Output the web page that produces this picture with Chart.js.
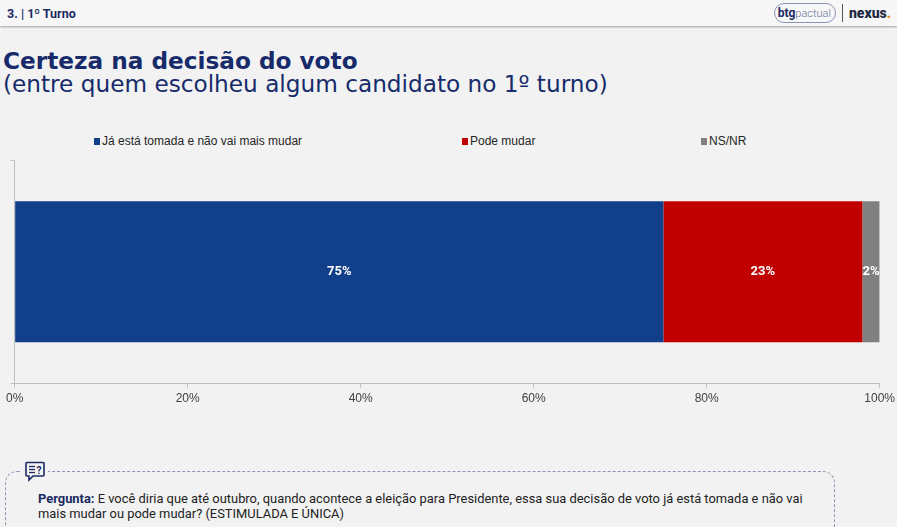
<!DOCTYPE html>
<html>
<head>
<meta charset="utf-8">
<script src="https://cdn.jsdelivr.net/npm/chart.js@4"></script>
<style>
  body { margin: 0; background: #f2f2f2; font-family: Roboto, "Liberation Sans", sans-serif; }
  #page { position: relative; width: 897px; height: 527px; overflow: hidden; background: #f2f2f2; }
  #header { position: absolute; left: 0; top: 0; width: 897px; height: 26px; background: #f7f7f7;
            box-shadow: 0 1px 2px rgba(0,0,0,0.35); }
  #section { position: absolute; left: 7px; top: 6px; font-size: 12.5px; font-weight: bold; color: #1b2a63; }
  #logo { position: absolute; right: 6px; top: 3px; height: 20px; display: flex; align-items: center; }
  .btg { border: 1px solid #8a93b8; border-radius: 10px; padding: 0 4px 0 3px; height: 18px; line-height: 18px;
         font-size: 12px; color: #1b2a63; font-weight: bold; }
  .btg span { font-weight: 300; font-size: 11px; color: #6a7396; }
  .sep { width: 1px; height: 18px; background: #555; margin: 0 6px 0 6px; }
  .nexus { font-size: 14px; font-weight: 900; color: #222a44; }
  .nexus i { color: #e98a10; font-style: normal; }
  #title { position: absolute; left: 3px; top: 49px; color: #172b6b; font-family: "DejaVu Sans", sans-serif;
           font-size: 23.2px; line-height: 23px; }
  #title b { font-weight: bold; }
  #legend { position: absolute; top: 134px; left: 0; font-family: "Liberation Sans Narrow", "Liberation Sans", sans-serif;
            font-size: 12px; color: #262626; }
  .item { position: absolute; white-space: nowrap; display: flex; align-items: center; }
  .sw { width: 6px; height: 7px; margin-right: 2px; }
  #chartbox { position: absolute; left: 2px; top: 150px; width: 897px; height: 260px; }
  #note { position: absolute; left: 5px; top: 471px; width: 828px; height: 80px; border: 1px dashed #8b96b5;
          border-radius: 12px; }
  #icon { position: absolute; left: 22px; top: 461px; width: 20px; height: 22px; background: #f2f2f2; padding: 0 3px; }
  #question { position: absolute; left: 38px; top: 491px; width: 790px; font-size: 12.9px; line-height: 15px; color: #222; }
  #question b { color: #1b2a63; }
</style>
</head>
<body>
<div id="page">
  <div id="header">
    <div id="section">3. | 1º Turno</div>
    <div id="logo">
      <div class="btg">btg<span>pactual</span></div>
      <div class="sep"></div>
      <div class="nexus">nexus<i>.</i></div>
    </div>
  </div>
  <div id="title"><b>Certeza na decisão do voto</b><br>(entre quem escolheu algum candidato no 1º turno)</div>
  <div id="legend"></div>
  <div id="chartbox"><canvas id="chart"></canvas></div>
  <div id="note"></div>
  <div id="icon">
    <svg width="20" height="22" viewBox="0 0 20 22">
      <path d="M2 1.5 H18 Q19 1.5 19 2.5 V14 Q19 15 18 15 H8 L4 19 V15 H2 Q1 15 1 14 V2.5 Q1 1.5 2 1.5 Z"
            fill="none" stroke="#1b2a63" stroke-width="1.6"/>
      <line x1="4" y1="5.5" x2="10" y2="5.5" stroke="#1b2a63" stroke-width="1.3"/>
      <line x1="4" y1="8.5" x2="10" y2="8.5" stroke="#1b2a63" stroke-width="1.3"/>
      <line x1="4" y1="11.5" x2="10" y2="11.5" stroke="#1b2a63" stroke-width="1.3"/>
      <text x="11.5" y="12.5" font-size="10" font-weight="bold" fill="#1b2a63" font-family="Roboto">?</text>
    </svg>
  </div>
  <div id="question"><b>Pergunta:</b> E você diria que até outubro, quando acontece a eleição para Presidente, essa sua decisão de voto já está tomada e não vai mais mudar ou pode mudar? (ESTIMULADA E ÚNICA)</div>
</div>
<script>
// data
const categories = ['1º Turno'];
const seriesNames = ['Já está tomada e não vai mais mudar', 'Pode mudar', 'NS/NR'];
const tomada = [75];
const podeMudar = [23];
const nsnr = [2];
const xTicks = [0, 20, 40, 60, 80, 100];

const colors = ['#123f8a', '#c00000', '#808080'];
const legendLeft = [94, 462, 701];

// legend as html
const legend = document.getElementById('legend');
seriesNames.forEach((name, i) => {
  const el = document.createElement('div');
  el.className = 'item';
  el.style.left = legendLeft[i] + 'px';
  el.innerHTML = '<span class="sw" style="background:' + colors[i] + '"></span>' + name;
  legend.appendChild(el);
});

// labels inside the bars
const barLabels = {
  id: 'barLabels',
  afterDatasetsDraw(chart) {
    const ctx = chart.ctx;
    ctx.save();
    ctx.font = 'bold 13px Roboto, "Liberation Sans", sans-serif';
    ctx.fillStyle = '#ffffff';
    ctx.textAlign = 'center';
    ctx.textBaseline = 'middle';
    chart.data.datasets.forEach((ds, i) => {
      chart.getDatasetMeta(i).data.forEach((bar, j) => {
        const x = (bar.x + bar.base) / 2;
        ctx.fillText(ds.data[j] + '%', x, bar.y);
      });
    });
    ctx.restore();
  }
};

const chartCanvas = document.getElementById('chart').getContext('2d');

const config = {
  type: 'bar',
  data: {
    labels: categories,
    datasets: [
      { label: seriesNames[0], data: tomada, backgroundColor: colors[0] },
      { label: seriesNames[1], data: podeMudar, backgroundColor: colors[1] },
      { label: seriesNames[2], data: nsnr, backgroundColor: colors[2] },
    ],
  },
  options: {
    indexAxis: 'y',
    responsive: true,
    maintainAspectRatio: false,
    animation: false,
    layout: { padding: { left: 8, right: 16, top: 10, bottom: 0 } },
    datasets: { bar: { categoryPercentage: 0.63, barPercentage: 1 } },
    plugins: {
      legend: { display: false },
      tooltip: { enabled: false },
    },
    scales: {
      x: {
        stacked: true,
        min: 0,
        max: 100,
        afterBuildTicks: (axis) => { axis.ticks = xTicks.map(v => ({ value: v })); },
        ticks: {
          callback: (v) => v + '%',
          color: '#404040',
          font: { family: '"Liberation Sans Narrow", "Liberation Sans", sans-serif', size: 12 },
          padding: 4,
          maxRotation: 0,
        },
        grid: { drawOnChartArea: false, drawTicks: true, tickLength: 4, color: '#bfbfbf' },
        border: { color: '#bfbfbf' },
      },
      y: {
        stacked: true,
        ticks: { display: false },
        grid: { drawOnChartArea: false, drawTicks: true, tickLength: 4, color: '#bfbfbf', offset: true },
        border: { color: '#bfbfbf' },
      },
    },
  },
  plugins: [barLabels],
};

const newBarChart = new Chart(chartCanvas, config);
</script>
</body>
</html>
